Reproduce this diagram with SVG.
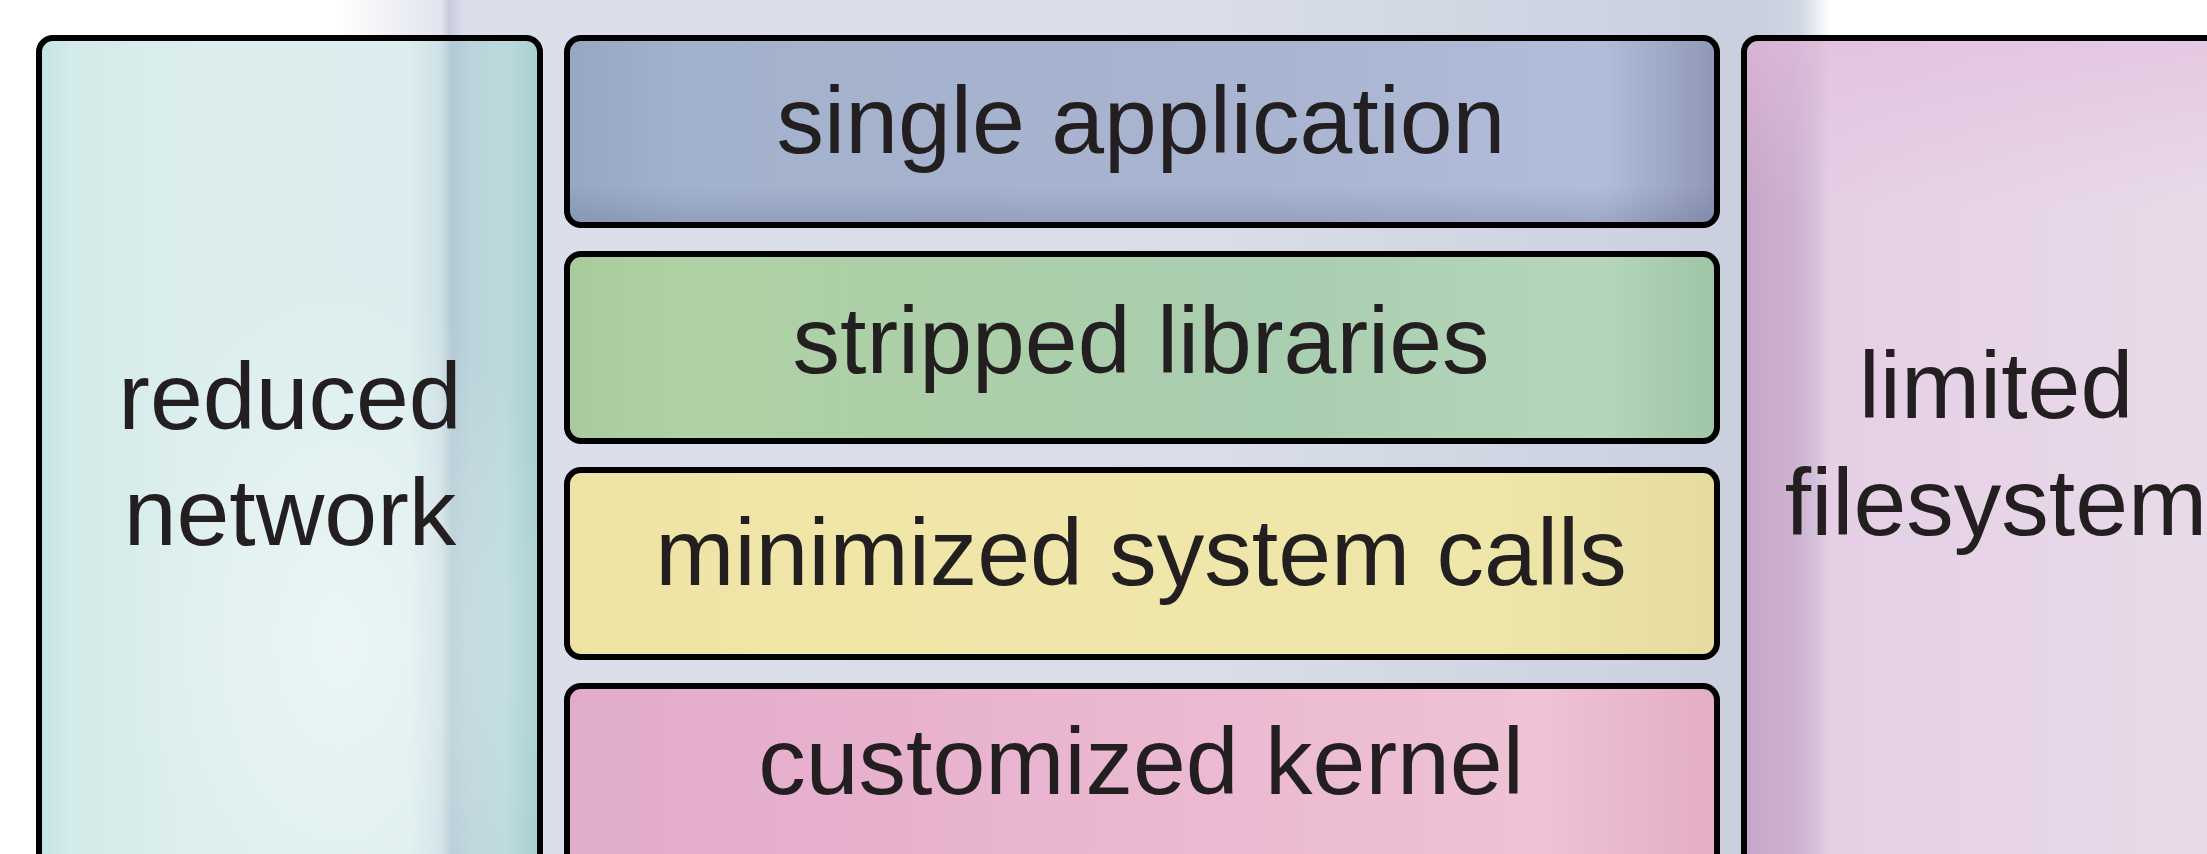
<svg xmlns="http://www.w3.org/2000/svg" width="2207" height="854" viewBox="0 0 2207 854">
<defs>
<style>
.box{stroke:#000;stroke-width:6}
.t{font-family:"Liberation Sans",Arial,Helvetica,sans-serif;font-size:95px;fill:#231f20;text-anchor:middle}
</style>
<linearGradient id="bg" x1="0" y1="0" x2="1" y2="0">
<stop offset="0" stop-color="#ffffff"/>
<stop offset="0.07" stop-color="#e3e5ef"/>
<stop offset="0.075" stop-color="#c9cbdd"/>
<stop offset="0.085" stop-color="#dcdfeb"/>
<stop offset="0.6" stop-color="#d8dde9"/>
<stop offset="0.95" stop-color="#c9cfdd"/>
<stop offset="0.98" stop-color="#d0d6e2"/>
<stop offset="1" stop-color="#ffffff"/>
</linearGradient>
<linearGradient id="gL" x1="0" y1="0" x2="1" y2="0">
<stop offset="0" stop-color="#c3e4e2"/>
<stop offset="0.06" stop-color="#d3ebea"/>
<stop offset="0.3" stop-color="#dbeeed"/>
<stop offset="0.74" stop-color="#dbedee"/>
<stop offset="0.8" stop-color="#cfe1e6"/>
<stop offset="0.825" stop-color="#b2cad4"/>
<stop offset="0.86" stop-color="#bad3da"/>
<stop offset="0.93" stop-color="#bcdadd"/>
<stop offset="1" stop-color="#a7d0d1"/>
</linearGradient>
<radialGradient id="glow" cx="0.6" cy="0.72" r="0.45">
<stop offset="0" stop-color="#ffffff" stop-opacity="0.45"/>
<stop offset="1" stop-color="#ffffff" stop-opacity="0"/>
</radialGradient>
<linearGradient id="gR" x1="0" y1="0" x2="1" y2="0">
<stop offset="0" stop-color="#c7a5c9"/>
<stop offset="0.1" stop-color="#cdb2cf"/>
<stop offset="0.14" stop-color="#d3bfd8"/>
<stop offset="0.17" stop-color="#e5cfe5"/>
<stop offset="1" stop-color="#e9dcea"/>
</linearGradient>
<linearGradient id="gRtop" x1="0" y1="0" x2="0" y2="1">
<stop offset="0" stop-color="#e2bcdc" stop-opacity="0.6"/>
<stop offset="0.2" stop-color="#e2bcdc" stop-opacity="0"/>
</linearGradient>
<linearGradient id="g1" x1="0" y1="0" x2="1" y2="0">
<stop offset="0" stop-color="#95a7c2"/>
<stop offset="0.1" stop-color="#a3b2cc"/>
<stop offset="0.6" stop-color="#a9b4d0"/>
<stop offset="0.9" stop-color="#b1bddb"/>
<stop offset="1" stop-color="#8f97b7"/>
</linearGradient>
<linearGradient id="g2" x1="0" y1="0" x2="1" y2="0">
<stop offset="0" stop-color="#a9cb9c"/>
<stop offset="0.1" stop-color="#b0d1a4"/>
<stop offset="0.6" stop-color="#a9cdaf"/>
<stop offset="0.9" stop-color="#b5d6bb"/>
<stop offset="1" stop-color="#9fc4a6"/>
</linearGradient>
<linearGradient id="g3" x1="0" y1="0" x2="1" y2="0">
<stop offset="0" stop-color="#ede3a3"/>
<stop offset="0.2" stop-color="#f0e6a8"/>
<stop offset="0.8" stop-color="#efe6aa"/>
<stop offset="1" stop-color="#e6dca1"/>
</linearGradient>
<linearGradient id="g4" x1="0" y1="0" x2="1" y2="0">
<stop offset="0" stop-color="#e1abca"/>
<stop offset="0.3" stop-color="#e8b2cf"/>
<stop offset="0.85" stop-color="#efc2d5"/>
<stop offset="1" stop-color="#e3adc6"/>
</linearGradient>
<linearGradient id="shade" x1="0" y1="0" x2="0" y2="1">
<stop offset="0.8" stop-color="#404870" stop-opacity="0"/>
<stop offset="1" stop-color="#404870" stop-opacity="0.18"/>
</linearGradient>
</defs>

<rect x="0" y="0" width="2207" height="854" fill="#ffffff"/>
<rect x="337" y="0" width="1493" height="854" fill="url(#bg)"/>

<g id="reduced-network">
<rect class="box" x="39" y="38" width="501" height="840" rx="14" fill="url(#gL)"/>
<rect x="42" y="41" width="495" height="834" rx="12" fill="url(#glow)"/>
<text class="t" x="290" y="429">reduced</text>
<text class="t" x="290" y="545">network</text>
</g>

<g id="single-application">
<rect class="box" x="567" y="38" width="1150" height="187" rx="14" fill="url(#g1)"/>
<rect x="570" y="41" width="1144" height="181" rx="12" fill="url(#shade)"/>
<text class="t" x="1141" y="153">single application</text>
</g>

<g id="stripped-libraries">
<rect class="box" x="567" y="254" width="1150" height="187" rx="14" fill="url(#g2)"/>
<text class="t" x="1141" y="373">stripped libraries</text>
</g>

<g id="minimized-system-calls">
<rect class="box" x="567" y="470" width="1150" height="187" rx="14" fill="url(#g3)"/>
<text class="t" x="1141" y="585">minimized system calls</text>
</g>

<g id="customized-kernel">
<rect class="box" x="567" y="686" width="1150" height="200" rx="14" fill="url(#g4)"/>
<text class="t" x="1141" y="794">customized kernel</text>
</g>

<g id="limited-filesystem">
<rect class="box" x="1744" y="38" width="500" height="840" rx="14" fill="url(#gR)"/>
<rect x="1747" y="41" width="494" height="834" rx="12" fill="url(#gRtop)"/>
<text class="t" x="1996" y="418">limited</text>
<text class="t" x="1996" y="535">filesystem</text>
</g>
</svg>
